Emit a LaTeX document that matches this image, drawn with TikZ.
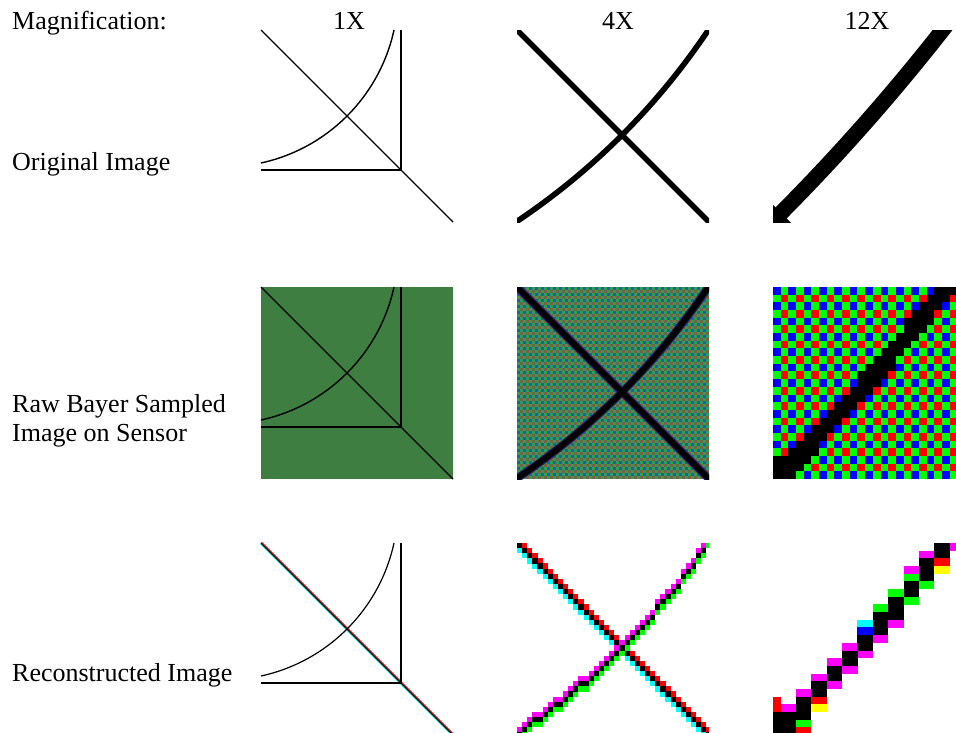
\documentclass[tikz,border=0pt]{standalone}
\usepackage{fontspec}
\setmainfont{Liberation Serif}
\definecolor{SensorGreen}{RGB}{62,126,64}
\definecolor{BayerR}{RGB}{255,0,0}
\definecolor{BayerG}{RGB}{0,255,0}
\definecolor{BayerB}{RGB}{0,0,255}
\definecolor{MosR}{RGB}{120,95,70}
\definecolor{MosG}{RGB}{45,160,75}
\definecolor{MosB}{RGB}{40,90,170}
\definecolor{MosEdge}{RGB}{40,30,100}
\definecolor{FringeM}{RGB}{255,0,255}
\definecolor{FringeC}{RGB}{0,255,255}
\definecolor{FringeY}{RGB}{255,255,0}
\colorlet{bayer0}{BayerB}
\colorlet{bayer1}{BayerG}
\colorlet{bayer2}{BayerR}
\colorlet{bayer3}{black}
% the test image in 1X panel units (origin top left, y down)
\newcommand{\sensorscene}[1]{%
  \draw[line width=#1] (0,0) -- (192,192);
  \draw[line width=#1] (0,140) -- (140,140) -- (140,0);
  \draw[line width=#1] (0,133) arc[start angle=77.7,end angle=12.3,radius=174.1];
}

\begin{document}
\begin{tikzpicture}[x=1pt,y=-1pt,
  lbl/.style={font=\fontsize{26}{29}\selectfont,inner sep=0pt,anchor=base west},
  head/.style={font=\fontsize{26}{29}\selectfont,inner sep=0pt,anchor=base},
]
\useasboundingbox (0,0) rectangle (956,732);

% labels
\node[lbl]  (mag)    at (12,29)  {Magnification:};
\node[head] (one)    at (349,29) {1X};
\node[head] (four)   at (618,29) {4X};
\node[head] (twelve) at (867,29) {12X};
\node[lbl]  (orig)   at (12,170) {Original Image};
\node[lbl]  (raw)    at (12,412) {Raw Bayer Sampled};
\node[lbl]  (sensor) at (12,441) {Image on Sensor};
\node[lbl]  (recon)  at (12,681) {Reconstructed Image};

% original image
\begin{scope}[shift={(261,30)}]
  \sensorscene{1.4}
\end{scope}
\begin{scope}
  \clip (517,30) rectangle ++(192,192);
  \begin{scope}[shift={(613,126)},scale=4,shift={(-83.75,-83.75)}]
    \sensorscene{5.6}
  \end{scope}
\end{scope}
\begin{scope}
  \clip (773,30) rectangle (956,222);
  \begin{scope}[shift={(869,126)},scale=12,shift={(-93.8,-78.3)}]
    \sensorscene{15.6}
  \end{scope}
\end{scope}

% raw bayer samples
\fill[SensorGreen] (261,287) rectangle ++(192,192);
\begin{scope}[shift={(261,287)}]
  \sensorscene{1.4}
\end{scope}
\begin{scope}
  \clip (517,287) rectangle ++(192,192);
  \fill[MosG] (517,287) rectangle ++(192,192);
  \foreach \i in {0,2,...,62}{
    \foreach \j in {0,2,...,62}{
      \fill[MosB] ({517+\i*3},{287+\j*3}) rectangle ++(3,3);
      \fill[MosR] ({520+\i*3},{290+\j*3}) rectangle ++(3,3);
    }
  }
  \begin{scope}[shift={(613,383)},scale=4,shift={(-83.75,-83.75)}]
    \begin{scope}[MosEdge]
      \sensorscene{8}
    \end{scope}
    \sensorscene{5.6}
  \end{scope}
\end{scope}
\begin{scope}
  \clip (773,287) rectangle (956,479);
  \foreach \i in {0,...,24}{
    \foreach \j in {0,...,24}{
      \pgfmathsetmacro\ptx{93.8+(\i*7.68-96)/12}
      \pgfmathsetmacro\pty{78.3+((\j+0.5)*7.68-96)/12}
      \pgfmathsetmacro\dcirc{abs(10*veclen((\ptx+37.1)/10,(\pty+37.1)/10)-174.1)}
      \pgfmathsetmacro\ddiag{abs(\ptx-\pty)/1.4142}
      \pgfmathtruncatemacro\kk{(\dcirc<0.8 || \ddiag<0.8) ? 3 : mod(\i,2)+mod(\j,2)}
      \fill[bayer\kk] ({773+\i*7.68},{287+\j*7.68}) rectangle ++(7.75,7.75);
    }
  }
\end{scope}

% reconstructed image
\begin{scope}[shift={(261,543)}]
  \draw[BayerR,line width=0.9] (0.7,-0.7) -- (192.7,191.3);
  \draw[FringeC,line width=0.9] (-0.7,0.7) -- (191.3,192.7);
  \sensorscene{1.2}
\end{scope}
\begin{scope}
  \clip (517,543) rectangle ++(192,192);
  \foreach \k in {0,...,37}{
    \fill[BayerR] ({517+(\k+1)*5.12},{543+\k*5.12}) rectangle ++(5.15,5.15);
    \fill[FringeC] ({517+\k*5.12},{543+(\k+1)*5.12}) rectangle ++(5.15,5.15);
    \pgfmathsetmacro\ptx{83.75+((\k+0.5)*5.12-96)/4}
    \pgfmathsetmacro\pty{-37.1+10*sqrt(303.1-((\ptx+37.1)/10)^2)}
    \pgfmathtruncatemacro\r{floor((96+4*(\pty-83.75))/5.12)}
    \fill[FringeM] ({517+\k*5.12},{543+(\r-1)*5.12}) rectangle ++(5.15,5.15);
    \fill[BayerG] ({517+\k*5.12},{543+(\r+1)*5.12}) rectangle ++(5.15,5.15);
  }
  \foreach \k in {0,...,37}{
    \fill[black] ({517+\k*5.12},{543+\k*5.12}) rectangle ++(5.15,5.15);
    \pgfmathsetmacro\ptx{83.75+((\k+0.5)*5.12-96)/4}
    \pgfmathsetmacro\pty{-37.1+10*sqrt(303.1-((\ptx+37.1)/10)^2)}
    \pgfmathtruncatemacro\r{floor((96+4*(\pty-83.75))/5.12)}
    \fill[black] ({517+\k*5.12},{543+\r*5.12}) rectangle ++(5.15,5.15);
  }
\end{scope}
\begin{scope}
  \clip (773,543) rectangle (956,732);
  % col/row/width/height in sensor cells
  \foreach \c/\r/\w/\h/\col in {
      23/0/1/1/FringeM, 19/1/2/1/FringeM, 21/2/2/1/BayerR, 21/3/2/1/FringeY,
      17/3/2/1/FringeM, 17/4/2/1/BayerG, 19/5/2/1/BayerG, 17/7/2/1/BayerG,
      15/6/2/1/BayerG, 13/8/2/1/BayerG, 15/10/2/1/FringeM, 11/10/2/1/FringeC,
      11/11/2/1/BayerB, 13/12/2/1/FringeM, 9/13/2/1/FringeM, 11/14/2/1/FringeM,
      7/15/2/1/FringeM, 9/16/2/1/FringeM, 5/17/2/1/FringeM, 7/18/2/1/FringeM,
      3/19/2/1/FringeM, 5/20/2/1/BayerR, 5/21/2/1/FringeY, 0/20/1/2/BayerR,
      1/21/2/1/FringeM, 3/23/2/1/BayerG, 3/24/2/1/BayerR,
      21/0/2/2/black, 19/2/2/3/black, 17/5/2/2/black, 15/7/2/3/black,
      13/9/2/3/black, 11/12/2/2/black, 9/14/2/2/black, 7/16/2/2/black,
      5/18/2/2/black, 3/20/2/3/black, 0/22/3/3/black}{
    \fill[\col] ({773+\c*7.68},{543+\r*7.68}) rectangle ++({\w*7.68+0.05},{\h*7.68+0.05});
  }
\end{scope}
\end{tikzpicture}
\end{document}
